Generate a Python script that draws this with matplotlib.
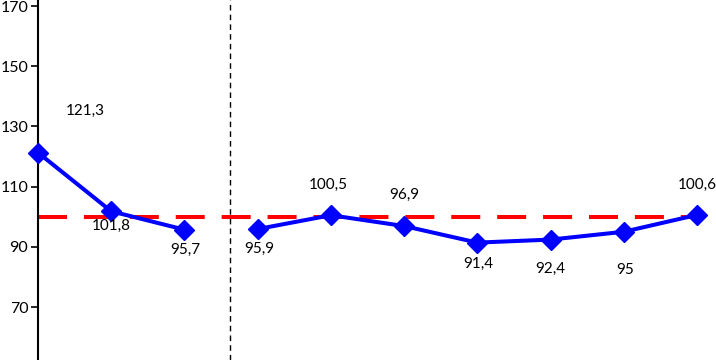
import matplotlib
matplotlib.use("Agg")
import matplotlib.pyplot as plt

plt.rcParams['font.family'] = ['Lato', 'DejaVu Sans']

values = [121.3, 101.8, 95.7, 95.9, 100.5, 96.9, 91.4, 92.4, 95, 100.6]
labels = ['121,3', '101,8', '95,7', '95,9', '100,5', '96,9', '91,4', '92,4', '95', '100,6']
# offsets of the value labels (pixels)
offsets = [(47, 42), (0, -15), (1, -20), (2, -20), (-3, 30), (0, 31), (1, -21), (0, -29), (1, -38), (0, 30)]
yticks = [70, 90, 110, 130, 150, 170]
reference = 100
split = 2.62

x = list(range(len(values)))

fig = plt.figure(figsize=(7.16, 3.6), dpi=100)
ax = fig.add_axes([38 / 716, 0, 1 - 38 / 716, 1])

ax.plot([x[0], x[-1]], [reference, reference], color='#FF0000', lw=2.9,
        dashes=(7.2, 4.2), solid_capstyle='butt', zorder=1)
ax.axvline(split, color='black', lw=1, dashes=(4, 3), zorder=1)

style = dict(color='#0000FF', lw=2.9, marker='D', markersize=10, zorder=3, clip_on=False)
ax.plot(x[:3], values[:3], **style)
ax.plot(x[3:], values[3:], **style)

for xi, v, lab, off in zip(x, values, labels, offsets):
    ax.annotate(lab, (xi, v), xytext=off, textcoords='offset pixels',
                ha='center', va='center', fontsize=11)

ax.set_xlim(0, 9.26)
ax.set_ylim(52.4, 172)
ax.set_yticks(yticks)
ax.set_xticks([])
for s in ['top', 'right', 'bottom']:
    ax.spines[s].set_visible(False)
ax.spines['left'].set_linewidth(1.5)
ax.spines['left'].set_zorder(2)
ax.tick_params(axis='y', length=5, width=1.2, labelsize=11.5, pad=2)

fig.savefig('out.png', dpi=100)
